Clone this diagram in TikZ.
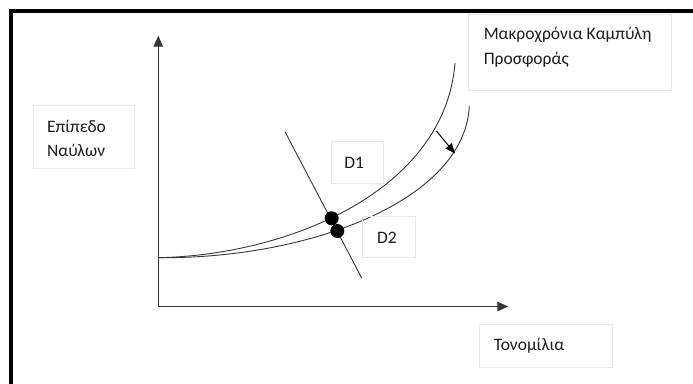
\documentclass[tikz,border=0pt]{standalone}
\usepackage{fontspec}
\setmainfont{Carlito}
\usetikzlibrary{arrows.meta}
\definecolor{boxcol}{RGB}{234,234,222}
\definecolor{txtcol}{RGB}{28,28,34}
\definecolor{lncol}{RGB}{55,55,55}
\newcommand{\boxtext}[5]{\parbox[c][#2][t]{#1}{\raggedright\leftskip=#3\relax\rule{0pt}{#4}#5}}
\tikzset{
  lbl/.style={draw=boxcol, line width=0.9pt, inner sep=0pt, anchor=north west,
    text=txtcol, font=\fontsize{17.5}{24.5}\selectfont},
  axisarrow/.style={draw=lncol, line width=1.3pt, -{Triangle[length=11pt,width=9.5pt]}},
  curveline/.style={draw=lncol, line width=0.9pt},
  eqdot/.style={circle, fill=black, inner sep=0pt, minimum size=14pt},
  shiftarrow/.style={draw=black, line width=1pt, -{Triangle[length=10pt,width=8pt]}},
  framestyle/.style={draw=black, line width=4.2pt}
}
\begin{document}
\begin{tikzpicture}[x=1pt,y=-1pt]
\useasboundingbox (0,0) rectangle (693,383);
\fill[white] (0,0) rectangle (693,383);
% frame
\draw[framestyle] (720,11.2) -| (10.9,400);
% coordinates
\coordinate (O) at (158.3,306.5);
\coordinate (ytip) at (158.3,35.7);
\coordinate (xtip) at (508.3,306.5);
\coordinate (S) at (158.3,257.7);
\coordinate (E1) at (455,63);
\coordinate (E2) at (469.3,106);
\coordinate (dtop) at (285,131.7);
\coordinate (dbot) at (361.7,278);
\coordinate (a1) at (436.5,131);
\coordinate (a2) at (455,153.5);
% axes
\draw[axisarrow] (O) -- (ytip);
\draw[axisarrow] (O) -- (xtip);
% supply curves
\draw[curveline] (S) .. controls (290,255) and (445,190) .. (E1);
\draw[curveline] (S) .. controls (310,259) and (465,200) .. (E2);
% demand line
\draw[curveline] (dtop) -- (dbot);
% shift arrow
\draw[shiftarrow] (a1) -- (a2);
% equilibrium points
\node[eqdot] (p1) at (331.7,218.3) {};
\node[eqdot] (p2) at (337.3,231) {};
% labels
\node[lbl] (ylab) at (33.3,105) {\boxtext{100.7pt}{63.3pt}{13.4pt}{26.7pt}{Επίπεδο\\Ναύλων}};
\node[lbl] (title) at (468.3,14) {\boxtext{202.4pt}{76pt}{15pt}{25.3pt}{Μακροχρόνια Καμπύλη\\Προσφοράς}};
\node[lbl] (xlab) at (479.3,324) {\boxtext{133pt}{43.3pt}{14pt}{26pt}{Τονομίλια}};
\node[lbl] (D1) at (331,141) {\boxtext{52pt}{42pt}{13pt}{27.3pt}{D1}};
\node[lbl] (D2) at (362,216) {\boxtext{53pt}{41pt}{14.7pt}{26.7pt}{D2}};
\end{tikzpicture}
\end{document}
